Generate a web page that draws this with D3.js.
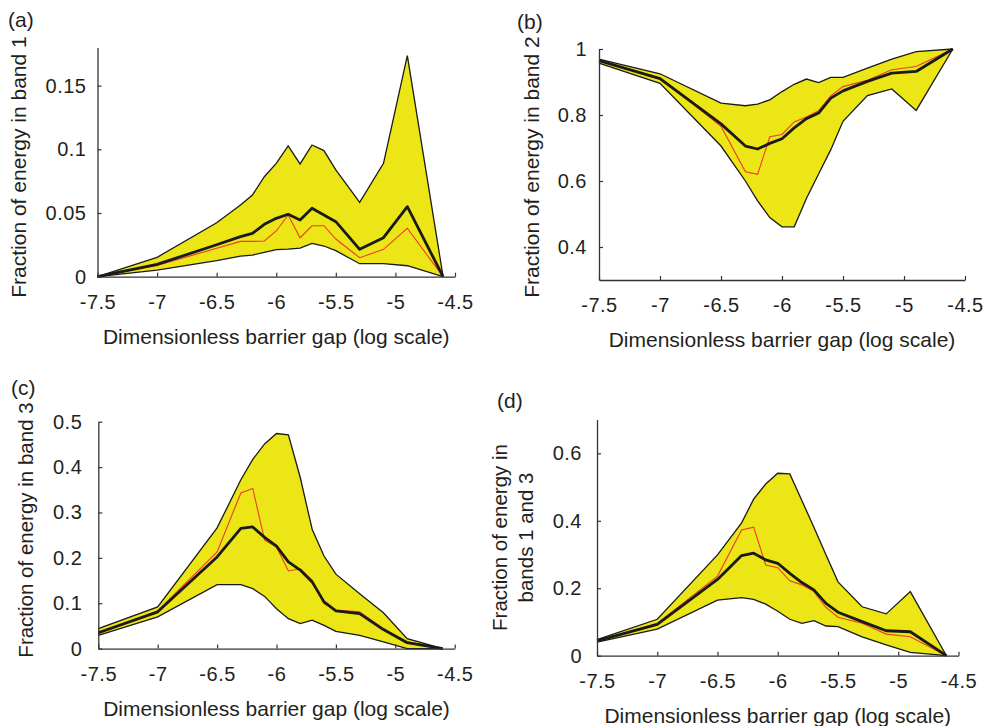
<!DOCTYPE html>
<html>
<head>
<meta charset="utf-8">
<script src="https://cdn.jsdelivr.net/npm/d3@7"></script>
<style>
    body { margin: 0; background: #fff; }
    text { font-family: "Liberation Sans", Arial, sans-serif; fill: #231f20; }
</style>
</head>
<body>
<div id="chart"></div>
<script>
// Barrier gap (log scale) where each curve was sampled
const gap = [-7.5, -7, -6.5, -6.3, -6.2, -6.1, -6.0, -5.9, -5.8, -5.7, -5.6, -5.5, -5.3, -5.1, -4.9, -4.6];

// (a) band 1
const band1Upper = [0, 0.0152, 0.0424, 0.0563, 0.0641, 0.0785, 0.089, 0.1026, 0.0885, 0.1034, 0.099, 0.0838, 0.0584, 0.089, 0.1736, 0];
const band1Mean = [0, 0.0097, 0.0251, 0.0314, 0.034, 0.0411, 0.0458, 0.049, 0.0445, 0.0537, 0.0484, 0.0432, 0.0215, 0.0306, 0.055, 0];
const band1Red = [0, 0.0089, 0.0223, 0.0277, 0.0277, 0.028, 0.0359, 0.0484, 0.0306, 0.04, 0.04, 0.0296, 0.0149, 0.0215, 0.038, 0];
const band1Lower = [0, 0.0052, 0.0126, 0.0162, 0.017, 0.0191, 0.0212, 0.0217, 0.0225, 0.0262, 0.0241, 0.0204, 0.0102, 0.0102, 0.0086, 0];

// (b) band 2
const band2Upper = [0.969, 0.925, 0.836, 0.828, 0.833, 0.846, 0.871, 0.893, 0.909, 0.898, 0.914, 0.914, 0.942, 0.969, 0.992, 1];
const band2Mean = [0.965, 0.910, 0.773, 0.706, 0.697, 0.714, 0.728, 0.761, 0.789, 0.806, 0.851, 0.873, 0.902, 0.927, 0.932, 1];
const band2Red = [0.965, 0.912, 0.766, 0.628, 0.620, 0.734, 0.741, 0.779, 0.794, 0.813, 0.858, 0.886, 0.905, 0.937, 0.947, 1];
const band2Lower = [0.957, 0.896, 0.706, 0.6, 0.54, 0.489, 0.461, 0.461, 0.547, 0.621, 0.695, 0.781, 0.859, 0.879, 0.814, 1];

// (c) band 3
const band3Upper = [0.044, 0.092, 0.266, 0.372, 0.417, 0.451, 0.474, 0.471, 0.377, 0.263, 0.204, 0.164, 0.121, 0.079, 0.022, 0];
const band3Mean = [0.035, 0.081, 0.202, 0.265, 0.268, 0.245, 0.226, 0.191, 0.173, 0.147, 0.103, 0.083, 0.077, 0.042, 0.013, 0];
const band3Red = [0.033, 0.083, 0.213, 0.343, 0.353, 0.239, 0.224, 0.171, 0.176, 0.151, 0.099, 0.085, 0.081, 0.044, 0.015, 0];
const band3Lower = [0.029, 0.07, 0.141, 0.141, 0.132, 0.115, 0.088, 0.066, 0.055, 0.0625, 0.051, 0.038, 0.029, 0.015, 0, 0];

// (d) bands 1 and 3
const band13Upper = [0.048, 0.108, 0.299, 0.394, 0.464, 0.509, 0.541, 0.539, 0.46, 0.381, 0.299, 0.219, 0.145, 0.124, 0.19, 0];
const band13Mean = [0.044, 0.093, 0.226, 0.297, 0.304, 0.284, 0.274, 0.244, 0.217, 0.195, 0.155, 0.129, 0.101, 0.074, 0.071, 0];
const band13Red = [0.042, 0.096, 0.236, 0.373, 0.381, 0.269, 0.261, 0.222, 0.21, 0.19, 0.143, 0.114, 0.096, 0.064, 0.056, 0];
const band13Lower = [0.04, 0.079, 0.165, 0.172, 0.167, 0.153, 0.132, 0.108, 0.096, 0.104, 0.088, 0.086, 0.056, 0.032, 0.01, 0];

// tick labels
const xTicks = [-7.5, -7, -6.5, -6, -5.5, -5, -4.5];
const yTicksA = [0, 0.05, 0.1, 0.15];
const yTicksB = [0.4, 0.6, 0.8, 1];
const yTicksC = [0, 0.1, 0.2, 0.3, 0.4, 0.5];
const yTicksD = [0, 0.2, 0.4, 0.6];

const width = 987, height = 726;

const svg = d3.select("#chart")
    .append("svg")
    .attr("width", width)
    .attr("height", height);

// one entry per panel: where it sits and what it shows
const panels = [
    { letter: "(a)", lx: 8, ly: 27, x0: 97.5, x1: 455, yTop: 47.4, yBot: 276.7, yDomain: [0, 0.18],
      yTicks: yTicksA, yPad: 11, label: ["Fraction of energy in band 1"], labelX: [26], labelY: 167, labelSize: 21,
      upper: band1Upper, mean: band1Mean, red: band1Red, lower: band1Lower },
    { letter: "(b)", lx: 517, ly: 29, x0: 599, x1: 965, yTop: 49, yBot: 280, yDomain: [0.3, 1],
      yTicks: yTicksB, yPad: 12, label: ["Fraction of energy in band 2"], labelX: [539], labelY: 167, labelSize: 21,
      upper: band2Upper, mean: band2Mean, red: band2Red, lower: band2Lower },
    { letter: "(c)", lx: 11, ly: 395, x0: 98.3, x1: 454.7, yTop: 421.7, yBot: 648.6, yDomain: [0, 0.5],
      yTicks: yTicksC, yPad: 16, label: ["Fraction of energy in band 3"], labelX: [33], labelY: 530, labelSize: 20.5,
      upper: band3Upper, mean: band3Mean, red: band3Red, lower: band3Lower },
    { letter: "(d)", lx: 497, ly: 408, x0: 597, x1: 958.5, yTop: 419.6, yBot: 655.7, yDomain: [0, 0.7],
      yTicks: yTicksD, yPad: 15, label: ["Fraction of energy in", "bands 1 and 3"], labelX: [506.5, 533], labelY: 537.5, labelSize: 20.5,
      upper: band13Upper, mean: band13Mean, red: band13Red, lower: band13Lower }
];

panels.forEach(p => {
    const x = d3.scaleLinear().domain([-7.5, -4.5]).range([p.x0, p.x1]);
    const y = d3.scaleLinear().domain(p.yDomain).range([p.yBot, p.yTop]);

    const g = svg.append("g");

    // envelope between lower and upper curve
    const rows = gap.map((v, i) => ({ gap: v, upper: p.upper[i], lower: p.lower[i], mean: p.mean[i], red: p.red[i] }));

    g.append("path")
        .datum(rows)
        .attr("d", d3.area().x(d => x(d.gap)).y0(d => y(d.lower)).y1(d => y(d.upper)))
        .attr("fill", "#ece617")
        .attr("stroke", "none");

    ["upper", "lower"].forEach(key => {
        g.append("path")
            .datum(rows)
            .attr("d", d3.line().x(d => x(d.gap)).y(d => y(d[key])))
            .attr("fill", "none")
            .attr("stroke", "#1a1a1a")
            .attr("stroke-width", 1.3);
    });

    g.append("path")
        .datum(rows)
        .attr("d", d3.line().x(d => x(d.gap)).y(d => y(d.red)))
        .attr("fill", "none")
        .attr("stroke", "#ee3b2b")
        .attr("stroke-width", 1.1);

    g.append("path")
        .datum(rows)
        .attr("d", d3.line().x(d => x(d.gap)).y(d => y(d.mean)))
        .attr("fill", "none")
        .attr("stroke", "#1a1a1a")
        .attr("stroke-width", 2.8)
        .attr("stroke-linejoin", "round");

    // axes, ticks pointing inward like matlab
    const xAxis = g.append("g")
        .attr("transform", `translate(0,${p.yBot})`)
        .call(d3.axisBottom(x).tickValues(xTicks).tickFormat(d => String(d))
            .tickSizeInner(-4).tickSizeOuter(0).tickPadding(18));

    const yAxis = g.append("g")
        .attr("transform", `translate(${p.x0},0)`)
        .call(d3.axisLeft(y).tickValues(p.yTicks).tickFormat(d => String(d))
            .tickSizeInner(-4).tickSizeOuter(0).tickPadding(p.yPad));

    [xAxis, yAxis].forEach(a => {
        a.select(".domain").attr("stroke", "#333").attr("stroke-width", 1.3);
        a.selectAll(".tick line").attr("stroke", "#333").attr("stroke-width", 1.2);
        a.selectAll(".tick text")
            .attr("fill", "#231f20")
            .style("font-size", "20px")
            .style("letter-spacing", "0.5px")
            .style("font-family", "\"Liberation Sans\", Arial, sans-serif");
    });

    // x title
    g.append("text")
        .attr("x", (p.x0 + p.x1) / 2)
        .attr("y", p.yBot + 67)
        .attr("text-anchor", "middle")
        .style("font-size", "21px")
        .text("Dimensionless barrier gap (log scale)");

    // y title (one or two lines)
    p.label.forEach((line, i) => {
        g.append("text")
            .attr("transform", `translate(${p.labelX[i]},${p.labelY}) rotate(-90)`)
            .attr("text-anchor", "middle")
            .style("font-size", p.labelSize + "px")
            .text(line);
    });

    // panel letter
    g.append("text")
        .attr("x", p.lx)
        .attr("y", p.ly)
        .style("font-size", "21px")
        .text(p.letter);
});
</script>
</body>
</html>
